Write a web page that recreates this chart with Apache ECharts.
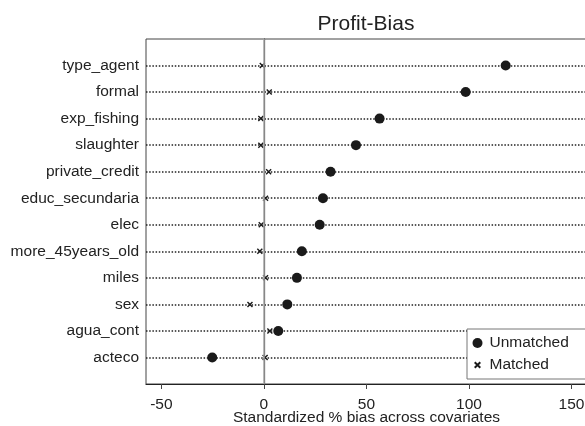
<!DOCTYPE html>
<html>
<head>
<meta charset="utf-8">
<script src="https://cdn.jsdelivr.net/npm/echarts@6/dist/echarts.min.js"></script>
<style>html,body{margin:0;padding:0;background:#fff;}#c{width:585px;height:426px;}</style>
</head>
<body>
<div id="c"></div>
<script>
const categories = ['acteco','agua_cont','sex','miles','more_45years_old','elec','educ_secundaria','private_credit','slaughter','exp_fishing','formal','type_agent'];
const unmatched = [-25.2, 7.0, 11.4, 16.1, 18.5, 27.2, 28.8, 32.5, 44.9, 56.4, 98.4, 117.9];
const matched = [0.6, 2.9, -6.8, 0.8, -2.0, -1.3, 0.8, 2.3, -1.5, -1.5, 2.6, -0.8];
const xTicks = [-50, 0, 50, 100, 150];

const FONT = 'Liberation Sans';
const yCats = [''].concat(categories).concat([' ']);
const chart = echarts.init(document.getElementById('c'), null, {renderer: 'canvas'});
const crossPath = 'path://M0,0L10,10M10,0L0,10';
const crossLegend = 'path://M-4,-4M14,14M0,0L10,10M10,0L0,10';

chart.setOption({
  animation: false,
  backgroundColor: '#fff',
  textStyle: {fontFamily: FONT},
  title: {
    text: 'Profit-Bias', left: 366, top: 14, padding: 0, textAlign: 'center',
    textStyle: {fontFamily: FONT, fontSize: 21, fontWeight: 'normal', color: '#222'}
  },
  grid: {left: 146, right: -7, top: 39, bottom: 42, show: true, borderColor: '#444', borderWidth: 1,
    outerBoundsMode: 'none', containLabel: false},
  xAxis: {
    type: 'value', min: -57.5, max: 160,
    name: 'Standardized % bias across covariates', nameLocation: 'middle', nameGap: 26,
    nameMoveOverlap: false,
    nameTextStyle: {fontFamily: FONT, fontSize: 15.5, color: '#222', padding: [0, 5, 0, 0]},
    axisLine: {show: true, onZero: false, lineStyle: {color: '#222', width: 1.2}},
    axisTick: {show: true, length: 5, customValues: xTicks, lineStyle: {color: '#444'}},
    axisLabel: {customValues: xTicks, fontFamily: FONT, fontSize: 15.5, color: '#222', margin: 13},
    splitLine: {show: false}
  },
  yAxis: {
    type: 'category', data: yCats, boundaryGap: false,
    axisLine: {show: true, lineStyle: {color: '#222', width: 1.2}},
    axisTick: {show: false},
    axisLabel: {fontFamily: FONT, fontSize: 15.5, color: '#222', margin: 7},
    splitLine: {show: true, interval: function (i) { return i > 0 && i < yCats.length - 1; },
      lineStyle: {color: '#222', type: [1.5, 1.7], width: 1.5}}
  },
  legend: {
    orient: 'vertical', left: 467, top: 329,
    backgroundColor: '#fff', borderColor: '#777', borderWidth: 1,
    padding: [5, 30, 5, 3], itemWidth: 14, itemHeight: 10, itemGap: 4,
    textStyle: {fontFamily: FONT, fontSize: 15.5, color: '#222', lineHeight: 18},
    data: [{name: 'Unmatched'}, {name: 'Matched', icon: crossLegend}]
  },
  series: [
    {
      name: 'Unmatched', type: 'scatter', symbol: 'circle', symbolSize: 10,
      itemStyle: {color: '#1a1a1a', opacity: 1},
      data: unmatched.map(function (v, i) { return [v, categories[i]]; }),
      markLine: {
        silent: true, symbol: ['none', 'none'], label: {show: false},
        lineStyle: {color: '#aaa', type: 'solid', width: 1.5},
        data: [{xAxis: 0}]
      },
      z: 3
    },
    {
      name: 'Matched', type: 'scatter', symbol: crossPath, symbolSize: 5,
      itemStyle: {color: 'none', borderColor: '#1a1a1a', borderWidth: 1.4, opacity: 1},
      data: matched.map(function (v, i) { return [v, categories[i]]; }),
      z: 3
    }
  ]
});
</script>
</body>
</html>
